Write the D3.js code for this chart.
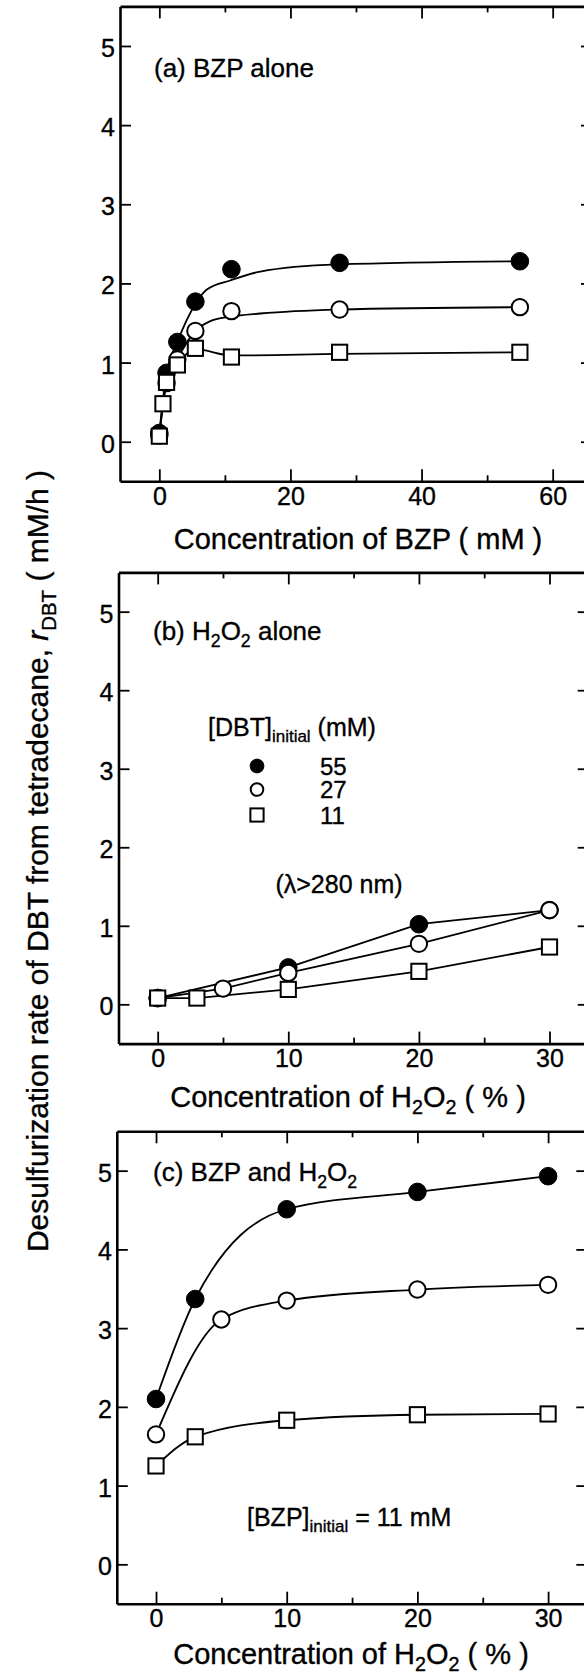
<!DOCTYPE html>
<html><head><meta charset="utf-8">
<script src="https://cdn.jsdelivr.net/npm/d3@7"></script>
<style>
body{margin:0;background:#fff}
svg{display:block}
text{font-family:"Liberation Sans",Arial,Helvetica,sans-serif;fill:#000;stroke:#000;stroke-width:0.35px}
</style>
</head><body>
<svg id="chart" width="584" height="1680"></svg>
<script>
// ---------------- DATA ----------------
// Panel (a): BZP alone, x = concentration of BZP (mM)
const bzpConc      = [0, 1.1, 2.75, 5.5, 11, 27.5, 55];
const bzpConcSq    = [0, 0.55, 1.1, 2.75, 5.5, 11, 27.5, 55];
const aRate55      = [0.11, 0.87, 1.26, 1.77, 2.18, 2.26, 2.28];
const aRate27      = [0.08, 0.74, 1.04, 1.40, 1.65, 1.67, 1.70];
const aRate11      = [0.07, 0.48, 0.75, 0.97, 1.18, 1.07, 1.13, 1.13];
// fitted curves of panel (a)
const aFitX55 = [0, 1.1, 2.75, 5.5, 7.2, 10.9, 15.4, 27.2, 55];
const aFit55  = [0.11, 0.87, 1.26, 1.74, 1.92, 2.04, 2.15, 2.24, 2.28];
const aFitX27 = [0, 1.1, 2.75, 5.5, 7.7, 10.9, 15.4, 27.2, 55];
const aFit27  = [0.08, 0.74, 1.04, 1.40, 1.52, 1.58, 1.62, 1.67, 1.70];
const aFitX11 = [0, 0.55, 1.1, 2.75, 5.5, 11, 27.5, 55];
const aFit11  = [0.07, 0.48, 0.75, 0.97, 1.17, 1.09, 1.11, 1.13];

// Panel (b): H2O2 alone, x = concentration of H2O2 (%)
const bX55 = [0, 10, 20, 30];
const bY55 = [0.08, 0.47, 1.02, 1.20];
const bX27 = [0, 5, 10, 20, 30];
const bY27 = [0.08, 0.20, 0.40, 0.77, 1.20];
const bX11 = [0, 3, 10, 20, 30];
const bY11 = [0.08, 0.08, 0.19, 0.42, 0.73];

// Panel (c): BZP and H2O2
const cX55 = [0, 3, 10, 20, 30];
const cY55 = [2.10, 3.37, 4.51, 4.73, 4.93];
const cX27 = [0, 5, 10, 20, 30];
const cY27 = [1.65, 3.11, 3.35, 3.49, 3.55];
const cX11 = [0, 3, 10, 20, 30];
const cY11 = [1.25, 1.62, 1.83, 1.90, 1.91];

// ticks / labels
const yTicks       = [0, 1, 2, 3, 4, 5];
const aXMajor      = [0, 20, 40, 60];
const aXMinor      = [10, 30, 50];
const hXMajor      = [0, 10, 20, 30];
const hXMinor      = [5, 15, 25];
const legendDBT    = ["55", "27", "11"];
const legendSymbol = ["filled", "open", "square"];

// ---------------- DRAW ----------------
const svg = d3.select("#chart");
svg.append("rect").attr("width", 584).attr("height", 1680).attr("fill", "#fff");

function rich(g, x, y, parts, size, anchor, rotate) {
  const t = g.append("text")
    .attr("font-size", size)
    .attr("text-anchor", anchor || "start");
  if (rotate) t.attr("transform", `translate(${x},${y}) rotate(${rotate})`);
  else t.attr("x", x).attr("y", y);
  let shifted = 0;
  parts.forEach(p => {
    const [txt, kind] = p;
    const s = t.append("tspan").text(txt);
    if (kind === "s") {
      s.attr("font-size", size * 0.68).attr("dy", size * 0.25 - shifted);
      shifted = size * 0.25;
    } else {
      if (shifted) { s.attr("dy", -shifted); shifted = 0; }
      if (kind === "i") s.attr("font-style", "italic");
    }
  });
  return t;
}

function panel(cfg) {
  const x = d3.scaleLinear().domain(cfg.xd).range(cfg.xr);
  const y = d3.scaleLinear().domain([-0.5, 5.5]).range(cfg.yr);
  const g = svg.append("g");
  const fmt = d3.format("d");

  const styleAxis = (sel, hideText) => {
    sel.select(".domain").attr("stroke", "#000").attr("stroke-width", 2.6);
    sel.selectAll(".tick line").attr("stroke", "#000").attr("stroke-width", 1.8);
    sel.selectAll(".tick text").attr("font-size", 25).attr("fill", "#000")
      .attr("font-family", '"Liberation Sans",Arial,sans-serif');
    if (hideText) sel.selectAll(".tick text").remove();
  };

  // bottom
  g.append("g").attr("transform", `translate(0,${cfg.yr[0]})`)
    .call(d3.axisBottom(x).tickValues(cfg.xMajor).tickSizeInner(-12).tickSizeOuter(0).tickPadding(6).tickFormat(fmt))
    .call(s => styleAxis(s, false));
  g.append("g").attr("transform", `translate(0,${cfg.yr[0]})`)
    .call(d3.axisBottom(x).tickValues(cfg.xMinor).tickSizeInner(-6).tickSizeOuter(0).tickFormat(""))
    .call(s => { styleAxis(s, true); s.select(".domain").remove(); });
  // top
  g.append("g").attr("transform", `translate(0,${cfg.yr[1]})`)
    .call(d3.axisTop(x).tickValues(cfg.xMajor).tickSizeInner(-12).tickSizeOuter(0).tickFormat(""))
    .call(s => styleAxis(s, true));
  g.append("g").attr("transform", `translate(0,${cfg.yr[1]})`)
    .call(d3.axisTop(x).tickValues(cfg.xMinor).tickSizeInner(-6).tickSizeOuter(0).tickFormat(""))
    .call(s => { styleAxis(s, true); s.select(".domain").remove(); });
  // left
  g.append("g").attr("transform", `translate(${cfg.xr[0]},0)`)
    .call(d3.axisLeft(y).tickValues(yTicks).tickSizeInner(-11).tickSizeOuter(0).tickPadding(5).tickFormat(fmt))
    .call(s => { styleAxis(s, false); s.selectAll(".tick text").attr("dy", "0.42em"); });
  // right
  g.append("g").attr("transform", `translate(${cfg.xr[1]},0)`)
    .call(d3.axisRight(y).tickValues(yTicks).tickSizeInner(-11).tickSizeOuter(0).tickFormat(""))
    .call(s => styleAxis(s, true));

  // series lines
  cfg.series.forEach(sr => {
    const lx = sr.lx || sr.x, ly = sr.ly || sr.y;
    const pts = lx.map((v, i) => [v, ly[i]]);
    const line = d3.line().x(d => x(d[0])).y(d => y(d[1])).curve(sr.curve || d3.curveLinear);
    g.append("path").attr("d", line(pts)).attr("fill", "none")
      .attr("stroke", "#000").attr("stroke-width", 1.8);
  });
  // markers drawn after all lines (open symbols cover lines)
  cfg.series.slice().reverse().forEach(sr => {
    const pts = sr.x.map((v, i) => [v, sr.y[i]]);
    drawMarkers(g, pts.map(d => [x(d[0]), y(d[1])]), sr.sym, 8.2, 7.6);
  });
  return {g, x, y};
}

function drawMarkers(g, pts, sym, r, h) {
  pts.forEach(([px, py]) => {
    if (sym === "square") {
      g.append("rect").attr("x", px - h).attr("y", py - h).attr("width", 2 * h).attr("height", 2 * h)
        .attr("fill", "#fff").attr("stroke", "#000").attr("stroke-width", 2);
    } else {
      g.append("circle").attr("cx", px).attr("cy", py).attr("r", sym === "filled" ? r + 0.6 : r)
        .attr("fill", sym === "filled" ? "#000" : "#fff")
        .attr("stroke", "#000").attr("stroke-width", sym === "filled" ? 1 : 2);
    }
  });
}

// Panel a
panel({
  xd: [-6, 66], xr: [120, 592], yr: [481.3, 6.4], xMajor: aXMajor, xMinor: aXMinor,
  series: [
    {x: bzpConcSq, y: aRate11, lx: aFitX11, ly: aFit11, sym: "square", curve: d3.curveMonotoneX},
    {x: bzpConc, y: aRate27, lx: aFitX27, ly: aFit27, sym: "open", curve: d3.curveMonotoneX},
    {x: bzpConc, y: aRate55, lx: aFitX55, ly: aFit55, sym: "filled", curve: d3.curveMonotoneX}
  ]
});
// Panel b
panel({
  xd: [-3, 33], xr: [118.5, 588.7], yr: [1043.6, 572.4], xMajor: hXMajor, xMinor: hXMinor,
  series: [
    {x: bX11, y: bY11, sym: "square"},
    {x: bX27, y: bY27, sym: "open"},
    {x: bX55, y: bY55, sym: "filled"}
  ]
});
// Panel c
panel({
  xd: [-3, 33], xr: [116.8, 587.3], yr: [1603.7, 1131.3], xMajor: hXMajor, xMinor: hXMinor,
  series: [
    {x: cX11, y: cY11, sym: "square", curve: d3.curveMonotoneX},
    {x: cX27, y: cY27, sym: "open", curve: d3.curveMonotoneX},
    {x: cX55, y: cY55, sym: "filled", curve: d3.curveMonotoneX}
  ]
});

// Panel labels
rich(svg, 154, 76.5, [["(a) BZP alone"]], 26, "start");
rich(svg, 153, 640, [["(b) H"], ["2", "s"], ["O"], ["2", "s"], [" alone"]], 26, "start");
rich(svg, 153, 1181, [["(c) BZP and H"], ["2", "s"], ["O"], ["2", "s"]], 26, "start");

// x titles
rich(svg, 358, 549, [["Concentration of BZP ( mM )"]], 29, "middle");
rich(svg, 348, 1107, [["Concentration of H"], ["2", "s"], ["O"], ["2", "s"], [" ( % )"]], 29, "middle");
rich(svg, 351, 1664, [["Concentration of H"], ["2", "s"], ["O"], ["2", "s"], [" ( % )"]], 29, "middle");

// y title
rich(svg, 48, 861, [["Desulfurization rate of DBT from tetradecane, "], ["r", "i"], ["DBT", "s"], [" ( mM/h )"]], 30, "middle", -90);

// Legend (panel b)
rich(svg, 208, 736, [["[DBT]"], ["initial", "s"], [" (mM)"]], 25, "start");
const legY = [766, 789.5, 815];
legendDBT.forEach((lab, i) => {
  drawMarkers(svg, [[257, legY[i]]], legendSymbol[i], 6.3, 6.6);
  svg.append("text").attr("x", 320).attr("y", legY[i] + 8.5).attr("font-size", 24).text(lab);
});
rich(svg, 339, 893, [["(λ>280 nm)"]], 25, "middle");

// Panel c note
rich(svg, 247, 1526, [["[BZP]"], ["initial", "s"], [" = 11 mM"]], 25, "start");
</script>
</body></html>
